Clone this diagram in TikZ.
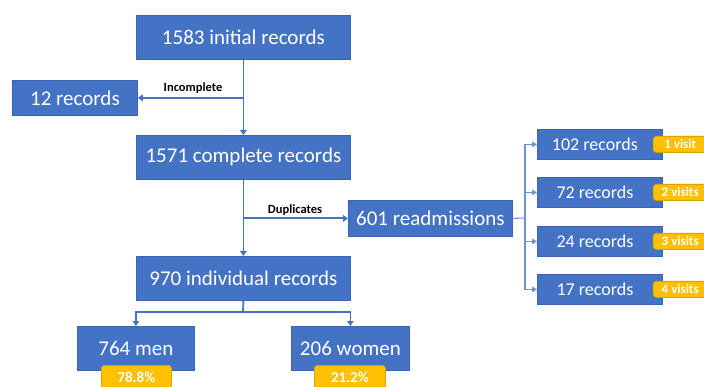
\documentclass[tikz,border=0pt]{standalone}
\usepackage{fontspec}
\setmainfont{Carlito}
\usetikzlibrary{arrows.meta}
\definecolor{boxblue}{HTML}{4472C4}
\definecolor{boxedge}{HTML}{3B65B3}
\definecolor{linkblue}{HTML}{4472C4}
\definecolor{thinblue}{HTML}{6F93D6}
\definecolor{gold}{HTML}{FFC000}
\definecolor{goldedge}{HTML}{D9A300}
\begin{document}
\begin{tikzpicture}[x=1pt,y=-1pt,
  box/.style={draw=boxedge, line width=0.8pt, fill=boxblue, text=white, inner sep=0pt, anchor=north west},
  bigtxt/.style={font=\fontsize{21}{24}\selectfont},
  midtxt/.style={font=\fontsize{18}{20}\selectfont},
  badge/.style={draw=goldedge, line width=0.8pt, fill=gold, text=white, rounded corners=3pt, inner sep=0pt, anchor=north west},
  bigbadge/.style={font=\bfseries\fontsize{15}{17}\selectfont},
  smallbadge/.style={font=\bfseries\fontsize{13}{15}\selectfont},
  conn/.style={draw=linkblue, line width=1.8pt, -{Triangle[width=6.5pt,length=5pt]}},
  thin/.style={draw=thinblue, line width=1.1pt, -{Triangle[width=5.5pt,length=5pt]}},
  lbl/.style={font=\bfseries\fontsize{12.5}{14}\selectfont, text=black, inner sep=0pt}
]
\useasboundingbox (0,0) rectangle (704,387);
\fill[white] (0,0) rectangle (704,387);
\clip (0,0) rectangle (704,387);

% main column
\node[box, bigtxt, minimum width=214pt, minimum height=44pt] (init) at (136,15) {1583 initial records};
\node[box, bigtxt, minimum width=125pt, minimum height=35pt] (rec12) at (12,80) {12 records};
\node[box, bigtxt, minimum width=214pt, minimum height=44pt] (compl) at (136,135) {1571 complete records};
\node[box, bigtxt, minimum width=164pt, minimum height=36pt] (readm) at (348,200) {601 readmissions};
\node[box, bigtxt, minimum width=214pt, minimum height=44pt] (indiv) at (136,256) {970 individual records};
\node[box, bigtxt, minimum width=117pt, minimum height=44pt] (men) at (77,326) {764 men};
\node[box, bigtxt, minimum width=118pt, minimum height=44pt] (women) at (291,326) {206 women};
\node[badge, bigbadge, minimum width=70pt, minimum height=24pt] (menpct) at (101,365) {78.8\%};
\node[badge, bigbadge, minimum width=71pt, minimum height=24pt] (wompct) at (314,365) {21.2\%};

% right column
\node[box, midtxt, minimum width=125pt, minimum height=30pt] (r1) at (537,129) {\hspace*{-10pt}102 records};
\node[box, midtxt, minimum width=125pt, minimum height=30pt] (r2) at (537,177) {\hspace*{-10pt}72 records};
\node[box, midtxt, minimum width=125pt, minimum height=30pt] (r3) at (537,226) {\hspace*{-10pt}24 records};
\node[box, midtxt, minimum width=125pt, minimum height=30pt] (r4) at (537,274) {\hspace*{-10pt}17 records};
\node[badge, smallbadge, minimum width=58pt, minimum height=16pt, anchor=west] (v1) at ([xshift=-10pt]r1.east) {\hspace*{-4pt}1 visit};
\node[badge, smallbadge, minimum width=58pt, minimum height=16pt, anchor=west] (v2) at ([xshift=-10pt]r2.east) {\hspace*{-4pt}2 visits};
\node[badge, smallbadge, minimum width=58pt, minimum height=16pt, anchor=west] (v3) at ([xshift=-10pt]r3.east) {\hspace*{-4pt}3 visits};
\node[badge, smallbadge, minimum width=58pt, minimum height=16pt, anchor=west] (v4) at ([xshift=-10pt]r4.east) {\hspace*{-4pt}4 visits};

% connectors
\coordinate (b1) at (init.south |- rec12.east);
\coordinate (b2) at (compl.south |- readm.west);
\coordinate (b3) at (243,312);
\coordinate (b4) at (525,218);
\draw[conn] (init) -- (compl);
\draw[conn] (b1) -- (rec12);
\draw[conn] (compl) -- (indiv);
\draw[conn] (b2) -- (readm);
\draw[conn] (indiv.south) -- (b3) -| (men.north);
\draw[conn] (b3) -| (women.north);
\draw[draw=thinblue, line width=1.1pt] (readm.east) -- (b4);
\draw[thin] (b4) |- (r1.west);
\draw[thin] (b4) |- (r2.west);
\draw[thin] (b4) |- (r3.west);
\draw[thin] (b4) |- (r4.west);

\node[lbl] (incl) at (193,88) {Incomplete};
\node[lbl] (dupl) at (295,210) {Duplicates};
\end{tikzpicture}
\end{document}
